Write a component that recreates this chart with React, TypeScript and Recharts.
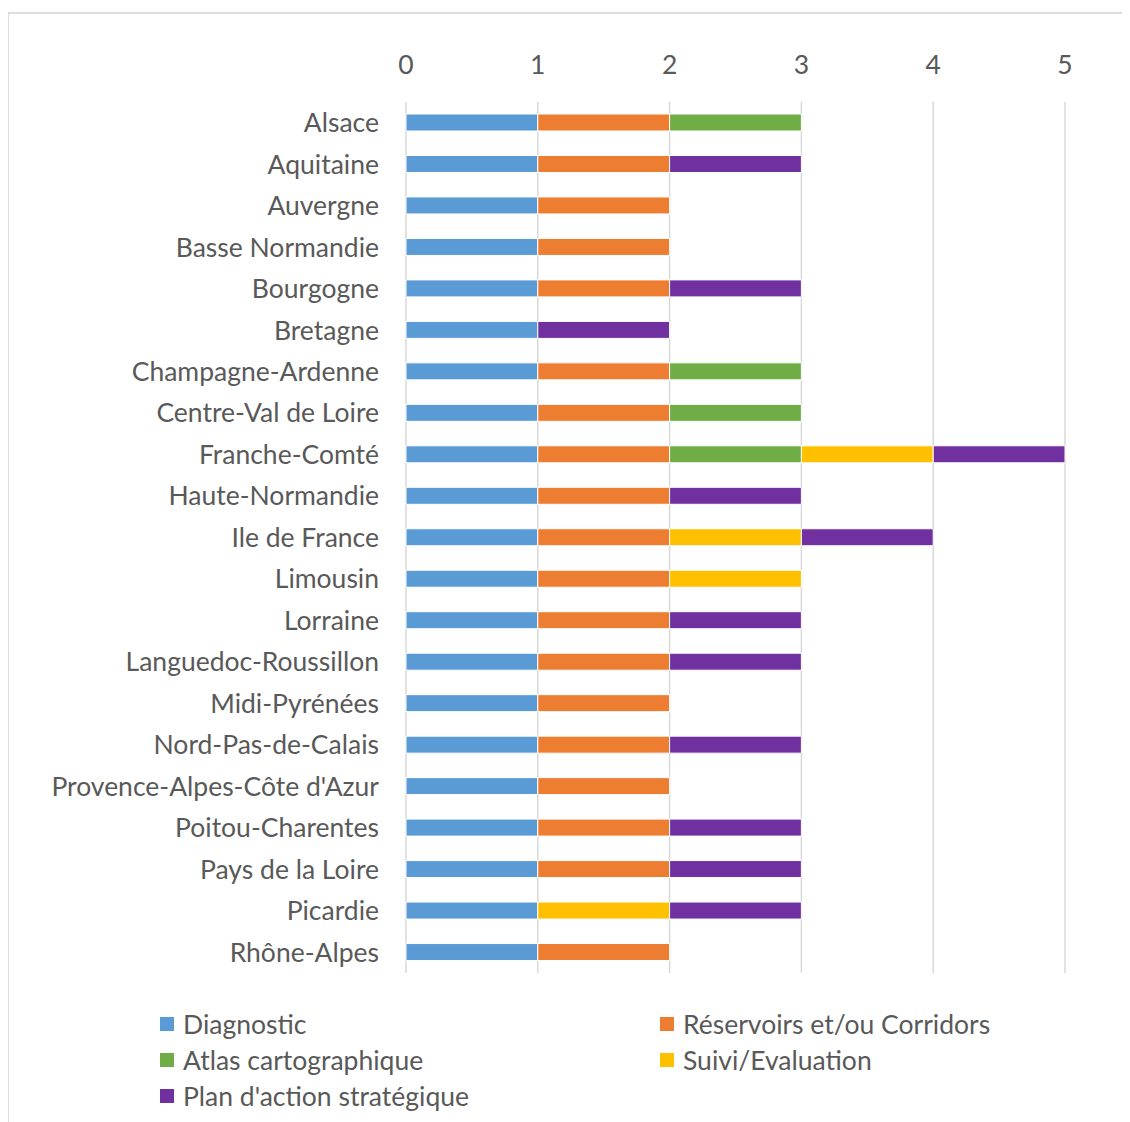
import React from "react";
import { BarChart, Bar, XAxis, YAxis, CartesianGrid, Legend } from "recharts";

const regions = [
  "Alsace", "Aquitaine", "Auvergne", "Basse Normandie", "Bourgogne", "Bretagne",
  "Champagne-Ardenne", "Centre-Val de Loire", "Franche-Comté", "Haute-Normandie",
  "Ile de France", "Limousin", "Lorraine", "Languedoc-Roussillon", "Midi-Pyrénées",
  "Nord-Pas-de-Calais", "Provence-Alpes-Côte d'Azur", "Poitou-Charentes",
  "Pays de la Loire", "Picardie", "Rhône-Alpes",
];
const diagnostic = [1,1,1,1,1,1,1,1,1,1,1,1,1,1,1,1,1,1,1,1,1];
const reservoirs = [1,1,1,1,1,0,1,1,1,1,1,1,1,1,1,1,1,1,1,0,1];
const atlas      = [1,0,0,0,0,0,1,1,1,0,0,0,0,0,0,0,0,0,0,0,0];
const suivi      = [0,0,0,0,0,0,0,0,1,0,1,1,0,0,0,0,0,0,0,1,0];
const plan       = [0,1,0,0,1,1,0,0,1,1,1,0,1,1,0,1,0,1,1,1,0];
const xTicks = [0, 1, 2, 3, 4, 5];

const seriesNames = ["Diagnostic", "Réservoirs et/ou Corridors", "Atlas cartographique", "Suivi/Evaluation", "Plan d'action stratégique"];
const colors = ["#5B9BD5", "#ED7D31", "#70AD47", "#FFC000", "#7030A0"];
const keys = ["diagnostic", "reservoirs", "atlas", "suivi", "plan"];

const data = regions.map((r, i) => ({
  region: r,
  diagnostic: diagnostic[i],
  reservoirs: reservoirs[i],
  atlas: atlas[i],
  suivi: suivi[i],
  plan: plan[i],
}));

const FONT = "Lato, 'Open Sans', sans-serif";
const TEXT = "#595959";
const FS = 26.5;

const LegendContent = () => (
  <div style={{ paddingTop: 33, paddingLeft: 151, fontFamily: FONT, fontSize: FS, color: TEXT }}>
    <div style={{ display: "grid", gridTemplateColumns: "500px 460px", rowGap: 0 }}>
      {seriesNames.map((n, i) => (
        <div key={n} style={{ display: "flex", alignItems: "center", height: 36, whiteSpace: "nowrap" }}>
          <span style={{ display: "inline-block", width: 14, height: 14, background: colors[i], marginRight: 9 }} />
          <span>{n}</span>
        </div>
      ))}
    </div>
  </div>
);

export default function App() {
  return (
    <div style={{ marginTop: 4, marginLeft: -1, width: 1128, height: 1112, border: "2px solid #dcdcdc", borderRight: "none", boxSizing: "border-box", background: "#fff", overflow: "hidden" }}>
      <BarChart
        width={1124}
        height={1110}
        data={data}
        layout="vertical"
        margin={{ top: 48, right: 68, bottom: 0, left: 0 }}
        barSize={17}
      >
        <CartesianGrid horizontal={false} vertical stroke="#d9d9d9" strokeWidth={1.5} />
        <XAxis
          type="number"
          orientation="top"
          domain={[0, 5]}
          ticks={xTicks}
          height={40}
          axisLine={false}
          tickLine={false}
          tickSize={0}
          tickMargin={28}
          tick={{ fill: TEXT, fontSize: FS, fontFamily: FONT }}
          interval={0}
        />
        <YAxis
          type="category"
          dataKey="region"
          width={397}
          axisLine={false}
          tickLine={false}
          tickSize={0}
          tickMargin={27}
          interval={0}
          tick={{ fill: TEXT, fontSize: FS, fontFamily: FONT }}
        />
        <Legend verticalAlign="bottom" wrapperStyle={{ left: 0, width: 1124, height: 151 }} content={<LegendContent />} />
        {keys.map((k, i) => (
          <Bar key={k} dataKey={k} name={seriesNames[i]} stackId="a" fill={colors[i]} stroke="#ffffff" strokeWidth={1} isAnimationActive={false} />
        ))}
      </BarChart>
    </div>
  );
}
